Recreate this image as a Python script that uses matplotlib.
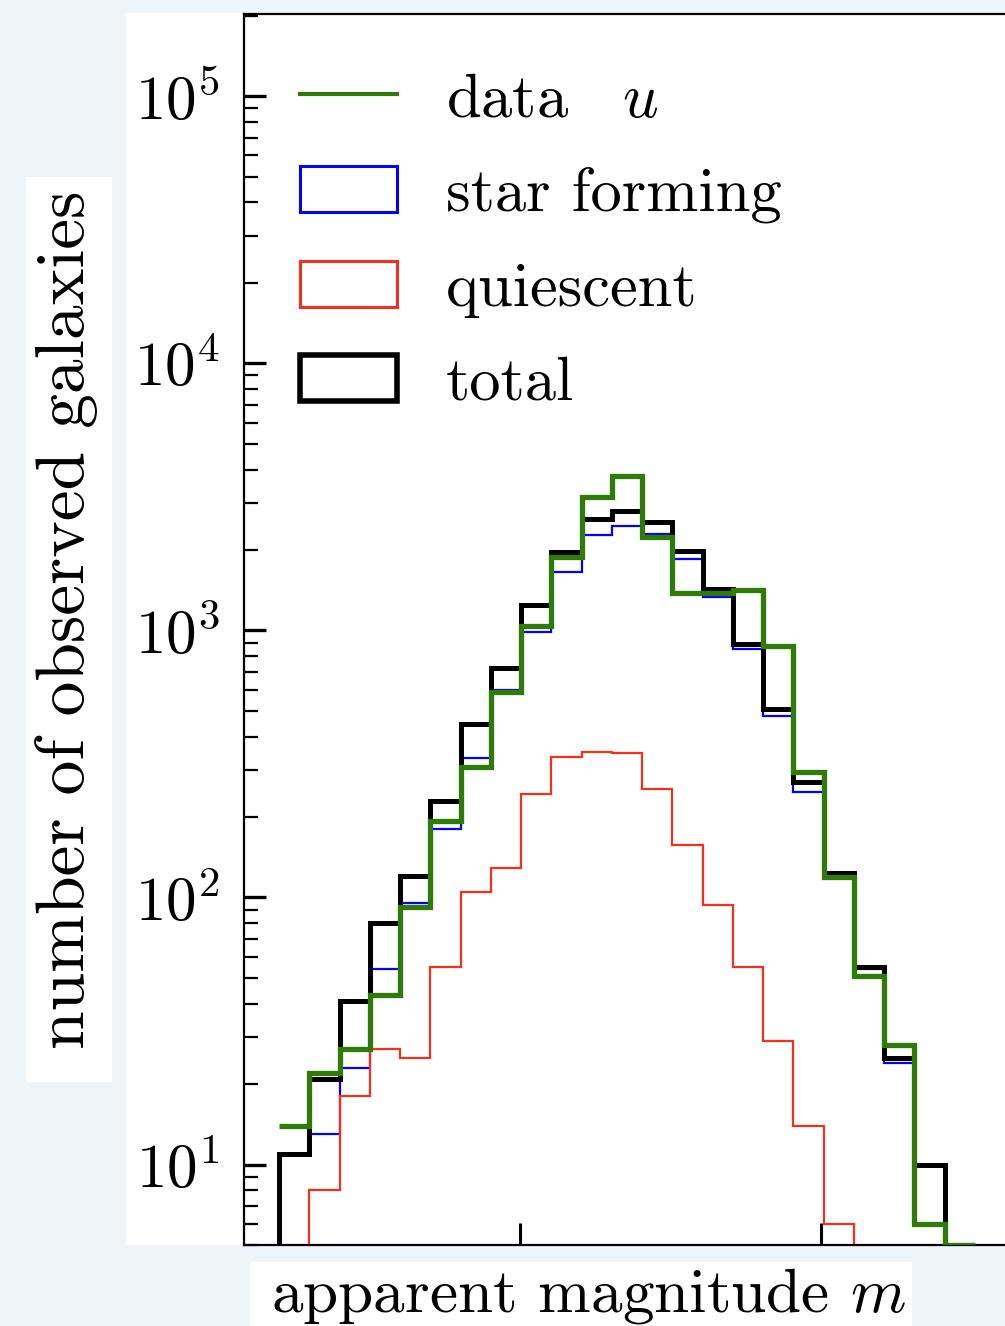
import numpy as np
import matplotlib
matplotlib.use("Agg")
import matplotlib.pyplot as plt
from matplotlib.patches import Rectangle, Patch
from matplotlib.lines import Line2D

plt.rcParams["font.family"] = "serif"
plt.rcParams["font.serif"] = ["cmr10"]
plt.rcParams["mathtext.fontset"] = "cm"
plt.rcParams["axes.formatter.use_mathtext"] = True

# ---- data ----
bin_edges = [16.0 + 0.5025 * i for i in range(24)]

total = [11, 21, 41, 80, 120, 230, 445, 726, 1240, 1970, 2610, 2790,
         2535, 1977, 1425, 887, 506, 270, 124, 55, 25, 10]
star_forming = [11, 13, 23, 54, 95, 180, 334, 596, 990, 1648, 2270, 2455,
                2300, 1846, 1330, 849, 476, 249, 122, 54, 24, 10]
quiescent = [1, 8, 18, 27, 25, 55, 105, 129, 243, 335, 350, 348,
             254, 157, 94, 55, 29, 14, 6, 2, 1, 1]
data_u = [14, 22, 27, 43, 92, 193, 307, 586, 1035, 1876, 3150, 3780,
          2230, 1385, 1385, 1415, 871, 296, 119, 51, 28, 6, 5]

labels = [r"data$\quad u$", "star forming", "quiescent", "total"]

GREEN = "#2f7b08"
BLUE = "#0000ff"
RED = "#f2301c"
BG = "#eff4f9"

W, H = 1005, 1326
fig = plt.figure(figsize=(W / 100, H / 100), dpi=100, facecolor=BG)

def px_rect(x0, y0, x1, y1):
    fig.add_artist(Rectangle((x0 / W, 1 - y1 / H), (x1 - x0) / W, (y1 - y0) / H,
                             transform=fig.transFigure, facecolor="white",
                             edgecolor="none", zorder=0))

px_rect(126, 13, 244, 1245)
px_rect(26, 177, 112, 1082)
px_rect(250, 1262, 912, 1326)

ax_left, ax_right, ax_top, ax_bot = 244, 1205, 14, 1245
ax_w, ax_h = ax_right - ax_left, ax_bot - ax_top
ax = fig.add_axes([ax_left / W, 1 - ax_bot / H, ax_w / W, ax_h / H])
ax.set_facecolor("white")

e = np.array(bin_edges)
ax.hist(e[:-2], bins=e[:-1], weights=star_forming, histtype="step",
        color=BLUE, lw=1.6, zorder=2)
ax.hist(e[:-2], bins=e[:-1], weights=quiescent, histtype="step",
        color=RED, lw=1.6, zorder=2)
ax.hist(e[:-2], bins=e[:-1], weights=total, histtype="step",
        color="black", lw=3.6, zorder=3)
ax.stairs(data_u, e, baseline=None, color=GREEN, lw=3.8, zorder=4)

ax.set_yscale("log")
ax.set_ylim(5, 2.03e5)
px_per_unit = 60.2
xmin = 20 - (520 - ax_left) / px_per_unit
ax.set_xlim(xmin, xmin + ax_w / px_per_unit)
ax.set_xticks([20, 25, 30])
ax.tick_params(axis="x", which="major", direction="in", length=16, width=2.2,
               labelbottom=False)
ax.tick_params(axis="x", which="minor", bottom=False)
ax.tick_params(axis="y", which="major", direction="in", length=16, width=2.4,
               labelsize=44, pad=17)
ax.tick_params(axis="y", which="minor", direction="in", length=10, width=1.6)
for s in ax.spines.values():
    s.set_linewidth(1.6)

ax.set_xlabel(r"apparent magnitude $m$", fontsize=45.5)
ax.xaxis.label.set_verticalalignment("center")
ax.xaxis.set_label_coords((588 - ax_left) / ax_w, -(1296 - ax_bot) / ax_h)
ax.set_ylabel("number of observed galaxies", fontsize=50)
ax.yaxis.label.set_verticalalignment("center")
ax.yaxis.set_label_coords(-(ax_left - 67) / ax_w, (ax_bot - 620) / ax_h)

handles = [Line2D([], [], color=GREEN, lw=3),
           Patch(facecolor="none", edgecolor=BLUE, lw=2.2),
           Patch(facecolor="none", edgecolor=RED, lw=2.2),
           Patch(facecolor="none", edgecolor="black", lw=4)]
ax.legend(handles, labels, loc="upper left", frameon=False, fontsize=45,
          handlelength=1.55, handleheight=0.75, handletextpad=0.78,
          labelspacing=0.6, borderaxespad=0.0, borderpad=0.0,
          bbox_to_anchor=(56 / ax_w, 1 - 58 / ax_h))

fig.savefig("out.png", dpi=100, facecolor=BG)
